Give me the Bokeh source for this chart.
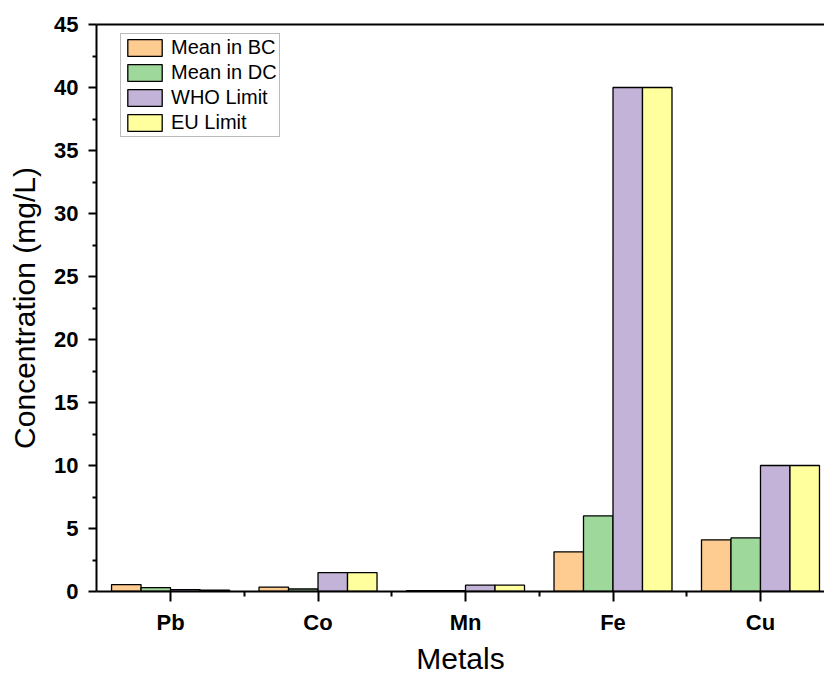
from bokeh.plotting import figure
from bokeh.models import (ColumnDataSource, FixedTicker, LinearAxis, Range1d,
                          Legend, LegendItem)
from bokeh.embed import file_html
from bokeh.resources import INLINE

# ---- data ----
metals = ["Pb", "Co", "Mn", "Fe", "Cu"]
mean_bc = [0.55, 0.35, 0.07, 3.15, 4.1]
mean_dc = [0.3, 0.2, 0.07, 6.0, 4.25]
who_limit = [0.15, 1.5, 0.5, 40, 10]
eu_limit = [0.1, 1.5, 0.5, 40, 10]
series_names = ["Mean in BC", "Mean in DC", "WHO Limit", "EU Limit"]
series_colors = ["#FECB90", "#9ED89A", "#C4B3D8", "#FFFF9E"]
y_ticks = [0, 5, 10, 15, 20, 25, 30, 35, 40, 45]

FONT = "Liberation Sans"

p = figure(width=824, height=677, output_backend="svg", toolbar_location=None,
           x_range=Range1d(0.498, 5.434), y_range=Range1d(0, 45),
           min_border_left=96, min_border_right=0, min_border_top=24,
           min_border_bottom=86)
p.outline_line_color = None
p.grid.visible = False
p.background_fill_color = "white"
p.border_fill_color = "white"

width = 0.2
offsets = [-0.3, -0.1, 0.1, 0.3]
items = []
for vals, name, col, off in zip([mean_bc, mean_dc, who_limit, eu_limit],
                                series_names, series_colors, offsets):
    src = ColumnDataSource(dict(x=[i + 1 + off for i in range(len(metals))], top=vals))
    r = p.vbar(x="x", top="top", width=width, bottom=0, source=src,
               fill_color=col, line_color="black", line_width=1.3)
    items.append(LegendItem(label=name, renderers=[r]))

# x axis
xa = p.xaxis[0]
xa.ticker = FixedTicker(ticks=[1, 2, 3, 4, 5], minor_ticks=[1.5, 2.5, 3.5, 4.5])
xa.major_label_overrides = {i + 1: m for i, m in enumerate(metals)}
xa.axis_label = "Metals"
xa.axis_label_text_font = FONT
xa.axis_label_text_font_size = "30px"
xa.axis_label_text_font_style = "normal"
xa.axis_label_text_color = "black"
xa.axis_label_standoff = 4
xa.major_label_text_font = FONT
xa.major_label_text_font_size = "22px"
xa.major_label_text_font_style = "bold"
xa.major_label_text_color = "black"
xa.major_label_standoff = 8
xa.major_tick_out = 10
xa.major_tick_in = 0
xa.minor_tick_out = 5
xa.minor_tick_in = 0
xa.axis_line_width = 2
xa.axis_line_color = "black"
xa.major_tick_line_width = 2
xa.minor_tick_line_width = 2

# y axis
ya = p.yaxis[0]
ya.ticker = FixedTicker(ticks=y_ticks, minor_ticks=[2.5 + 5 * i for i in range(9)])
ya.axis_label = "Concentration (mg/L)"
ya.axis_label_text_font = FONT
ya.axis_label_text_font_size = "30px"
ya.axis_label_text_font_style = "normal"
ya.axis_label_text_color = "black"
ya.axis_label_standoff = 10
ya.major_label_text_font = FONT
ya.major_label_text_font_size = "22px"
ya.major_label_text_font_style = "bold"
ya.major_label_text_color = "black"
ya.major_label_standoff = 10
ya.major_tick_out = 8
ya.major_tick_in = 0
ya.minor_tick_out = 4
ya.minor_tick_in = 0
ya.axis_line_width = 2
ya.axis_line_color = "black"
ya.major_tick_line_width = 2
ya.minor_tick_line_width = 2

# top frame line
top = LinearAxis(major_tick_line_color=None, minor_tick_line_color=None,
                 major_label_text_font_size="0px", axis_line_width=2,
                 axis_line_color="black", ticker=FixedTicker(ticks=[]))
p.add_layout(top, "above")

legend = Legend(items=items, location=(24, 454), orientation="vertical",
                label_text_font=FONT, label_text_font_size="20px",
                label_text_color="black",
                glyph_width=43, glyph_height=21, spacing=2, padding=2,
                margin=0, label_standoff=5, label_height=21,
                border_line_color="#777777", border_line_width=1,
                background_fill_alpha=1.0)
p.add_layout(legend, "center")

open("out.html", "w").write(file_html(p, INLINE))
